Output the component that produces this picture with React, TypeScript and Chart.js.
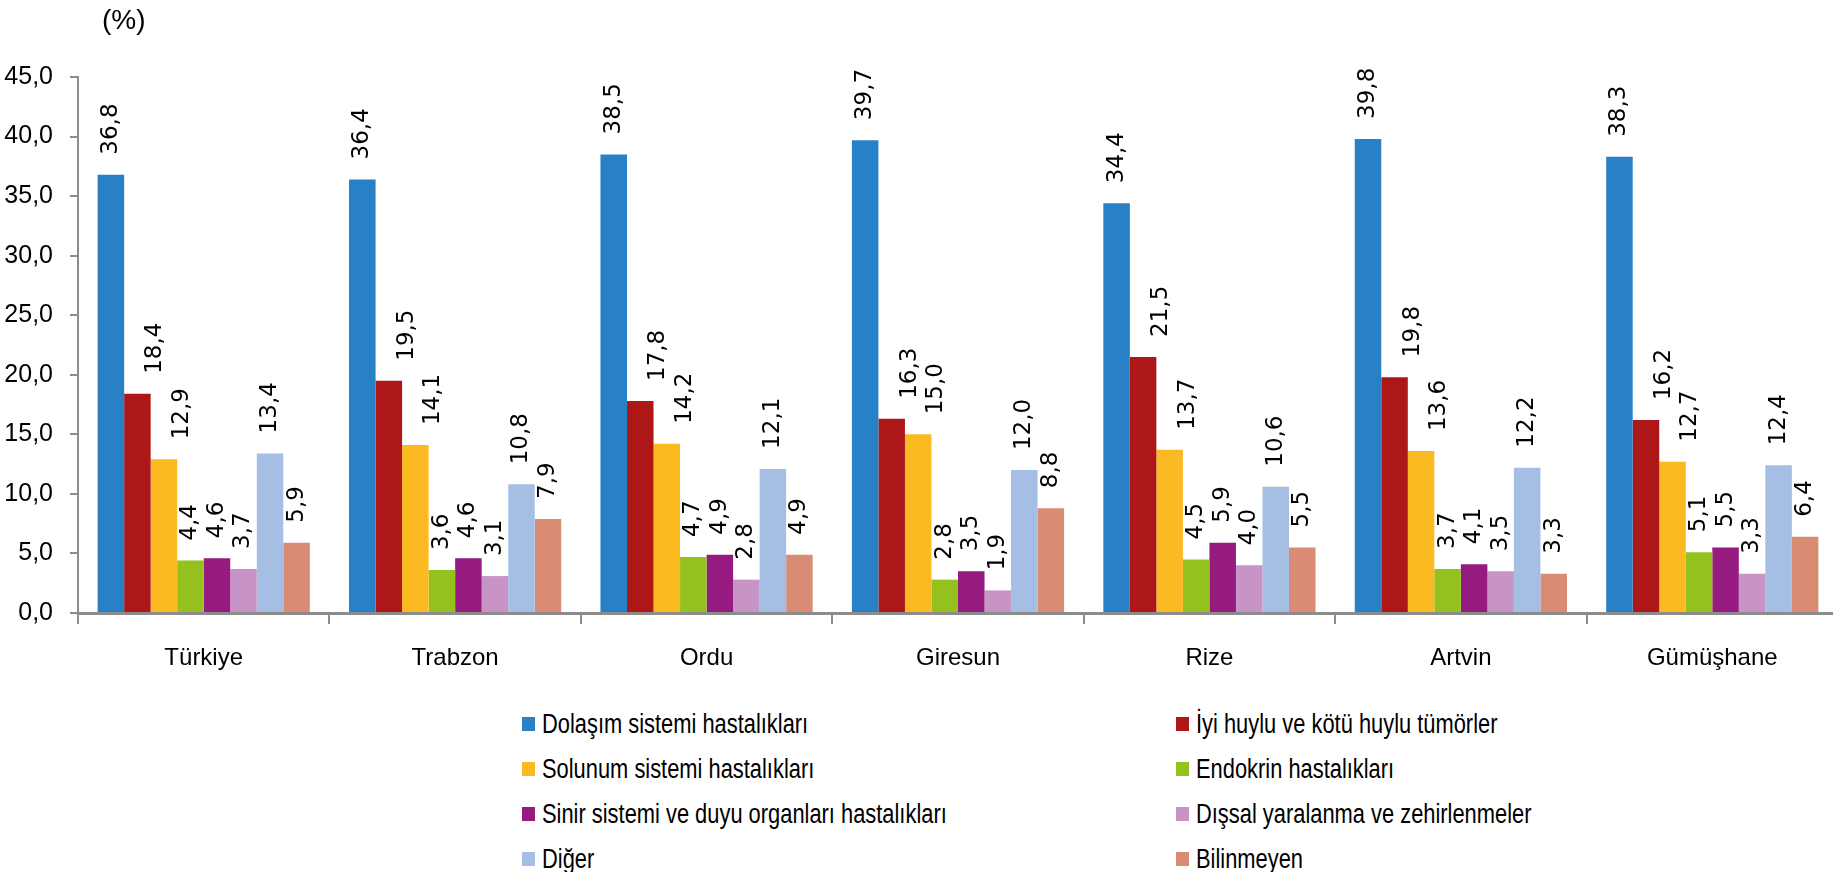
import React, { useEffect, useRef } from 'react';
import { Chart, registerables } from 'chart.js';

Chart.register(...registerables);

// ---------- DATA ----------
const CATEGORIES = ['Türkiye', 'Trabzon', 'Ordu', 'Giresun', 'Rize', 'Artvin', 'Gümüşhane'];

const SERIES_NAMES = [
  'Dolaşım sistemi hastalıkları',
  'İyi huylu ve kötü huylu tümörler',
  'Solunum sistemi hastalıkları',
  'Endokrin hastalıkları',
  'Sinir sistemi ve duyu organları hastalıkları',
  'Dışsal yaralanma ve zehirlenmeler',
  'Diğer',
  'Bilinmeyen',
];

const DOLASIM = [36.8, 36.4, 38.5, 39.7, 34.4, 39.8, 38.3];
const TUMOR = [18.4, 19.5, 17.8, 16.3, 21.5, 19.8, 16.2];
const SOLUNUM = [12.9, 14.1, 14.2, 15.0, 13.7, 13.6, 12.7];
const ENDOKRIN = [4.4, 3.6, 4.7, 2.8, 4.5, 3.7, 5.1];
const SINIR = [4.6, 4.6, 4.9, 3.5, 5.9, 4.1, 5.5];
const DISSAL = [3.7, 3.1, 2.8, 1.9, 4.0, 3.5, 3.3];
const DIGER = [13.4, 10.8, 12.1, 12.0, 10.6, 12.2, 12.4];
const BILINMEYEN = [5.9, 7.9, 4.9, 8.8, 5.5, 3.3, 6.4];

const SERIES_VALUES = [DOLASIM, TUMOR, SOLUNUM, ENDOKRIN, SINIR, DISSAL, DIGER, BILINMEYEN];

const Y_MIN = 0;
const Y_MAX = 45;
const Y_STEP = 5;
const UNIT_LABEL = '(%)';

// ---------- STYLES ----------
const COLORS = ['#2880C6', '#AD1717', '#FBBA22', '#95C11F', '#951B81', '#C794C5', '#A4BFE3', '#D98B74'];
const LABEL_DX = [0, 18, 18, 0, 0, 0, 0, 0];
const LABEL_GAP = 20;
const AXIS_FONT = '"Liberation Sans Narrow", "Liberation Sans", sans-serif';
const LABEL_FONT = '"DejaVu Sans", sans-serif';

const fmt = (v: number) => v.toFixed(1).replace('.', ',');

const CANVAS_W = 1838;
const CANVAS_H = 700;
const PLOT_LEFT = 78;
const PLOT_TOP = 77;
const PLOT_BOTTOM = 613;

const barLabelPlugin = {
  id: 'barLabels',
  afterDatasetsDraw(chart: any) {
    const ctx = chart.ctx;
    ctx.save();
    ctx.font = `23px ${LABEL_FONT}`;
    ctx.fillStyle = '#000';
    ctx.textAlign = 'left';
    ctx.textBaseline = 'middle';
    chart.data.datasets.forEach((ds: any, i: number) => {
      const meta = chart.getDatasetMeta(i);
      meta.data.forEach((bar: any, j: number) => {
        const v = ds.data[j] as number;
        ctx.save();
        ctx.translate(bar.x + LABEL_DX[i], bar.y - LABEL_GAP);
        ctx.rotate(-Math.PI / 2);
        ctx.fillText(fmt(v), 0, 0);
        ctx.restore();
      });
    });
    ctx.restore();
  },
};

export default function App() {
  const canvasRef = useRef<HTMLCanvasElement | null>(null);

  useEffect(() => {
    const canvas = canvasRef.current;
    if (!canvas) return;
    const chart = new Chart(canvas, {
      type: 'bar',
      data: {
        labels: CATEGORIES,
        datasets: SERIES_NAMES.map((name, i) => ({
          label: name,
          data: SERIES_VALUES[i],
          backgroundColor: COLORS[i],
          borderWidth: 0,
          barPercentage: 1.0,
          categoryPercentage: 0.844,
        })),
      },
      options: {
        responsive: false,
        animation: false,
        events: [],
        layout: { padding: { top: PLOT_TOP, left: 0, right: 0, bottom: 0 } },
        plugins: {
          legend: { display: false },
          title: { display: false },
          tooltip: { enabled: false },
        },
        scales: {
          x: {
            offset: true,
            border: { display: true, color: '#8C8C8C', width: 3 },
            grid: {
              display: true,
              offset: true,
              drawOnChartArea: false,
              drawTicks: true,
              tickLength: 11,
              color: '#8C8C8C',
              lineWidth: 2,
            },
            ticks: {
              color: '#000',
              font: { family: AXIS_FONT, size: 24 },
              padding: 20,
              maxRotation: 0,
            },
            afterFit: (scale: any) => {
              scale.height = CANVAS_H - PLOT_BOTTOM;
            },
          },
          y: {
            min: Y_MIN,
            max: Y_MAX,
            border: { display: true, color: '#8C8C8C', width: 2 },
            grid: {
              display: true,
              drawOnChartArea: false,
              drawTicks: true,
              tickLength: 8,
              color: '#8C8C8C',
              lineWidth: 2,
            },
            ticks: {
              stepSize: Y_STEP,
              color: '#000',
              font: { family: AXIS_FONT, size: 25 },
              padding: 17,
              callback: (v: any) => fmt(Number(v)),
            },
            afterFit: (scale: any) => {
              scale.width = PLOT_LEFT;
            },
          },
        },
      },
      plugins: [barLabelPlugin],
    });
    return () => chart.destroy();
  }, []);

  const legendTops = [724, 769, 814, 859];
  const legendCols = [522, 1176];

  return (
    <div
      style={{
        position: 'fixed',
        left: 0,
        top: 0,
        width: 1833,
        height: 872,
        overflow: 'hidden',
        background: '#fff',
      }}
    >
      <canvas
        ref={canvasRef}
        width={CANVAS_W}
        height={CANVAS_H}
        style={{ position: 'absolute', left: 0, top: 0, width: CANVAS_W, height: CANVAS_H, display: 'block' }}
      />
      <div
        style={{
          position: 'absolute',
          left: 102,
          top: 3,
          fontFamily: '"Liberation Sans", sans-serif',
          fontSize: 28,
          color: '#000',
          lineHeight: '34px',
        }}
      >
        {UNIT_LABEL}
      </div>
      {SERIES_NAMES.map((name, i) => {
        const row = Math.floor(i / 2);
        const col = i % 2;
        const cy = legendTops[row];
        return (
          <div
            key={name}
            style={{
              position: 'absolute',
              left: legendCols[col],
              top: cy - 17,
              height: 34,
              display: 'flex',
              alignItems: 'center',
              whiteSpace: 'nowrap',
              fontFamily: AXIS_FONT,
              fontSize: 27,
              color: '#000',
            }}
          >
            <span
              style={{
                display: 'inline-block',
                width: 13,
                height: 14,
                background: COLORS[i],
                marginRight: 7,
                flex: 'none',
              }}
            />
            <span style={{ display: 'inline-block', transform: 'scaleX(0.81)', transformOrigin: 'left center' }}>
              {name}
            </span>
          </div>
        );
      })}
    </div>
  );
}
